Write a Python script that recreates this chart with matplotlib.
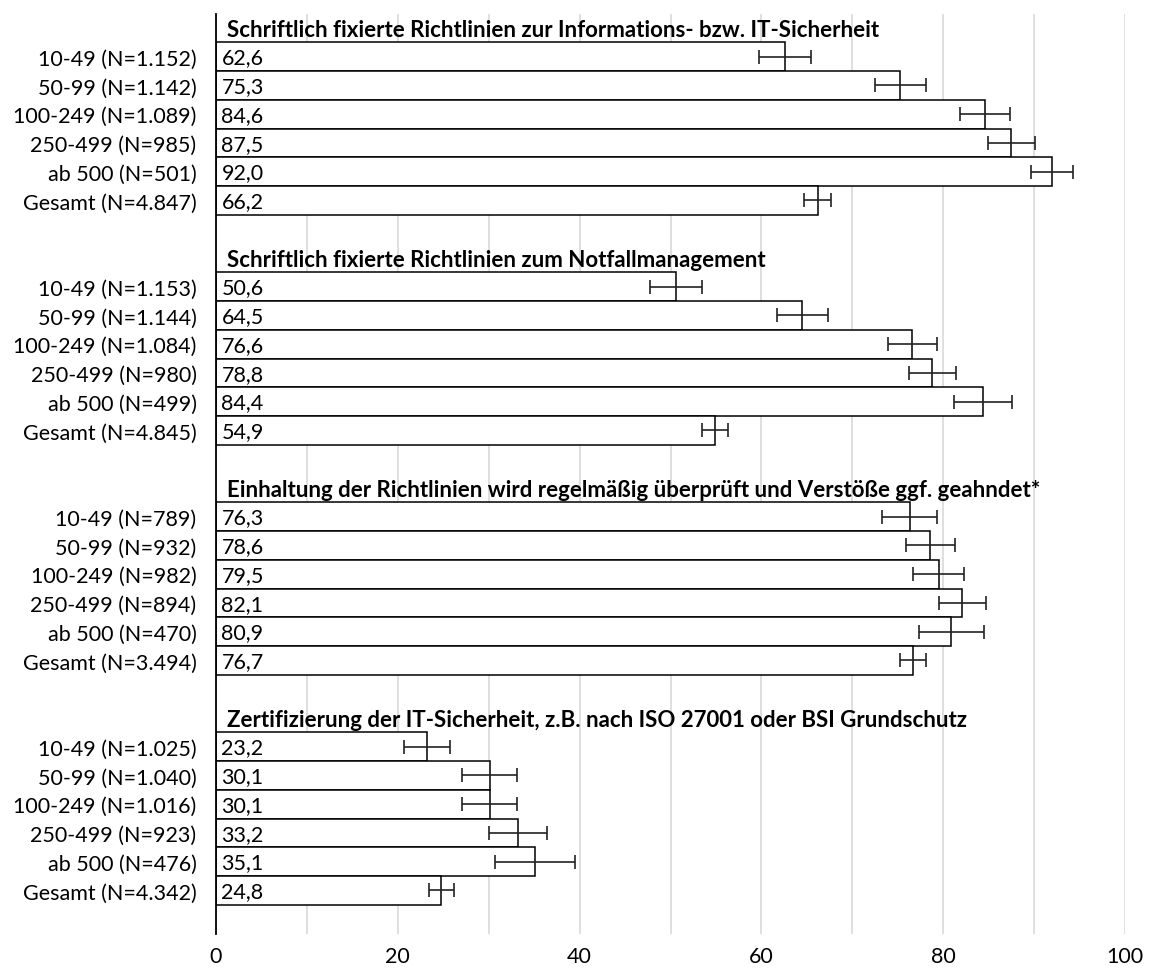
import numpy as np
import matplotlib
matplotlib.use('Agg')
import matplotlib.pyplot as plt

plt.rcParams['font.family'] = ['Lato', 'DejaVu Sans']

# group titles
titles = ['Schriftlich fixierte Richtlinien zur Informations- bzw. IT-Sicherheit',
          'Schriftlich fixierte Richtlinien zum Notfallmanagement',
          'Einhaltung der Richtlinien wird regelmäßig überprüft und Verstöße ggf. geahndet*',
          'Zertifizierung der IT-Sicherheit, z.B. nach ISO 27001 oder BSI Grundschutz']

# category labels per group
labels_1 = ['10-49 (N=1.152)', '50-99 (N=1.142)', '100-249 (N=1.089)', '250-499 (N=985)', 'ab 500 (N=501)', 'Gesamt (N=4.847)']
labels_2 = ['10-49 (N=1.153)', '50-99 (N=1.144)', '100-249 (N=1.084)', '250-499 (N=980)', 'ab 500 (N=499)', 'Gesamt (N=4.845)']
labels_3 = ['10-49 (N=789)', '50-99 (N=932)', '100-249 (N=982)', '250-499 (N=894)', 'ab 500 (N=470)', 'Gesamt (N=3.494)']
labels_4 = ['10-49 (N=1.025)', '50-99 (N=1.040)', '100-249 (N=1.016)', '250-499 (N=923)', 'ab 500 (N=476)', 'Gesamt (N=4.342)']

# values in percent
values_1 = [62.6, 75.3, 84.6, 87.5, 92.0, 66.2]
values_2 = [50.6, 64.5, 76.6, 78.8, 84.4, 54.9]
values_3 = [76.3, 78.6, 79.5, 82.1, 80.9, 76.7]
values_4 = [23.2, 30.1, 30.1, 33.2, 35.1, 24.8]

# error bar half widths (estimated)
errors_1 = [2.9, 2.8, 2.7, 2.6, 2.3, 1.5]
errors_2 = [2.9, 2.8, 2.7, 2.6, 3.2, 1.4]
errors_3 = [3.0, 2.7, 2.8, 2.6, 3.6, 1.4]
errors_4 = [2.5, 3.0, 3.0, 3.2, 4.4, 1.4]

groups = [(labels_1, values_1, errors_1), (labels_2, values_2, errors_2),
          (labels_3, values_3, errors_3), (labels_4, values_4, errors_4)]

fs = 15.5

fig = plt.figure(figsize=(11.72, 9.78), dpi=100)
ax = fig.add_axes([0.1843, 0.0444, 0.9599 - 0.1843, 0.9851 - 0.0444])

ytick_pos = []
ytick_lab = []
for g, (labs, vals, errs) in enumerate(groups):
    pos = np.arange(6) + g * 8 + 1
    ax.barh(pos, vals, height=1.0, color='white', edgecolor='black', linewidth=1.1, zorder=2)
    ax.errorbar(vals, pos, xerr=errs, fmt='none', ecolor='#222222', elinewidth=1.2,
                capsize=5, capthick=1.2, zorder=3)
    for p, v in zip(pos, vals):
        ax.text(0.6, p + 0.03, f'{v:.1f}'.replace('.', ','), ha='left', va='center',
                fontsize=fs, zorder=4)
    ax.text(1.2, g * 8 + 0.05, titles[g], ha='left', va='center', fontsize=fs + 0.5,
            fontweight='bold', zorder=4)
    ytick_pos.extend(pos)
    ytick_lab.extend(labs)

ax.set_xlim(0, 100)
ax.set_ylim(31.5, -0.5)
ax.set_xticks(range(0, 101, 20))
ax.set_xticks(range(0, 101, 10), minor=True)
ax.set_yticks(ytick_pos)
ax.set_yticklabels(ytick_lab)
ax.tick_params(axis='both', which='both', length=0, labelsize=fs)
ax.tick_params(axis='x', pad=9)
ax.tick_params(axis='y', pad=14)
ax.grid(axis='x', which='both', color='#d9d9d9', linewidth=1.2, zorder=0)
ax.set_axisbelow(True)
for s in ['top', 'right', 'bottom']:
    ax.spines[s].set_visible(False)
ax.spines['left'].set_linewidth(1.3)
ax.spines['left'].set_zorder(5)

fig.savefig('out.png', dpi=100)
